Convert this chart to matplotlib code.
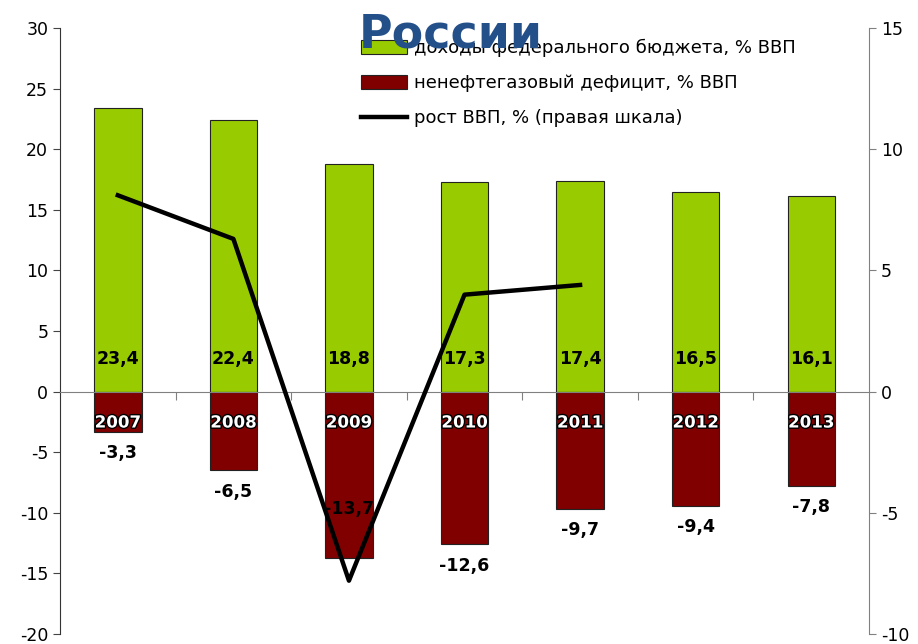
import numpy as np
import matplotlib.pyplot as plt
import matplotlib.patheffects as pe

years = ['2007', '2008', '2009', '2010', '2011', '2012', '2013']
revenue = [23.4, 22.4, 18.8, 17.3, 17.4, 16.5, 16.1]
deficit = [-3.3, -6.5, -13.7, -12.6, -9.7, -9.4, -7.8]
gdp_growth = [8.1, 6.3, -7.8, 4.0, 4.4]

green = '#99CC00'
red = '#800000'
axis_gray = '#808080'

plt.rcParams['font.family'] = ['DejaVu Sans']
plt.rcParams['axes.unicode_minus'] = False

fig = plt.figure(figsize=(9.18, 6.44), dpi=100)
ax = fig.add_axes([0.0654, 0.0155, 0.8812, 0.941])
x = np.arange(len(years))
w = 0.41

ax.bar(x, revenue, width=w, color=green, edgecolor='#222222', linewidth=0.8,
       label='доходы федерального бюджета, % ВВП', zorder=2)
ax.bar(x, deficit, width=w, color=red, edgecolor='#222222', linewidth=0.8,
       label='ненефтегазовый дефицит, % ВВП', zorder=2)

ax.set_xlim(-0.5, len(years) - 0.5)
ax.set_ylim(-20, 30)
ax.set_yticks(range(-20, 31, 5))
ax.tick_params(axis='y', labelsize=12.5, length=5, color='#444444')

# x axis drawn at zero with ticks between categories
ax.spines['bottom'].set_position(('data', 0))
ax.spines['bottom'].set_color(axis_gray)
ax.spines['top'].set_visible(False)
ax.spines['right'].set_visible(False)
ax.spines['left'].set_color('#333333')
ax.set_xticks(np.arange(0.5, len(years) - 0.5, 1))
ax.set_xticklabels([])
ax.tick_params(axis='x', direction='out', length=6, color=axis_gray)

for i in range(len(years)):
    ax.text(x[i], 2.7, f'{revenue[i]:.1f}'.replace('.', ','), ha='center', va='center',
            fontsize=12.5, fontweight='bold', zorder=4)
    ax.text(x[i], -2.55, years[i], ha='center', va='center', fontsize=12,
            fontweight='bold', color='white', zorder=4,
            path_effects=[pe.withStroke(linewidth=2, foreground='black')])
    ly = deficit[i] - 1.75
    if years[i] == '2009':
        ly = -9.65
    ax.text(x[i], ly, f'{deficit[i]:.1f}'.replace('.', ','), ha='center', va='center',
            fontsize=12.5, fontweight='bold', zorder=4)

ax2 = ax.twinx()
ax2.plot(x[:len(gdp_growth)], gdp_growth, color='black', linewidth=3.2,
         label='рост ВВП, % (правая шкала)', zorder=5)
ax2.set_ylim(-10, 15)
ax2.set_yticks(range(-10, 16, 5))
ax2.tick_params(axis='y', labelsize=12.5, length=5, color=axis_gray)
for s in ['top', 'left', 'bottom']:
    ax2.spines[s].set_visible(False)
ax2.spines['right'].set_color(axis_gray)

h1, l1 = ax.get_legend_handles_labels()
h2, l2 = ax2.get_legend_handles_labels()
ax2.legend(h1 + h2, l1 + l2, loc='upper left', bbox_to_anchor=(0.376, 0.965),
           bbox_transform=fig.transFigure, frameon=False, fontsize=13,
           handlelength=2.5, handleheight=0.85, labelspacing=0.95, handletextpad=0.4)

fig.text(0.491, 0.927, 'России', ha='center', va='baseline', fontsize=33,
         fontweight='bold', color='#24508a')

fig.savefig('out.png', dpi=100)
